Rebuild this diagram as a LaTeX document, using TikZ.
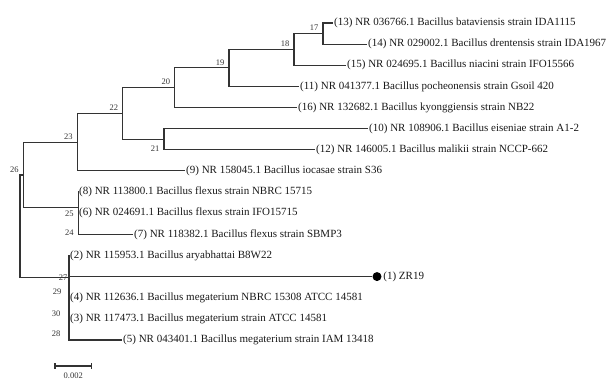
\documentclass[tikz,border=0pt]{standalone}
\usepackage{fontspec}
\setmainfont{Liberation Serif}
\usetikzlibrary{positioning}

\tikzset{
    branch/.style={draw=black!80, line width=1.1pt},
    leaf/.style={anchor=west, inner sep=1pt, text=black!90, font=\fontsize{11}{12}\selectfont},
    nlab/.style={inner sep=0pt, text=black!80, font=\fontsize{8.5}{9}\selectfont},
    zrdot/.style={circle, fill=black, inner sep=0pt, minimum size=9pt},
}

\begin{document}
\begin{tikzpicture}[x=1pt, y=-1pt]
        \useasboundingbox (0,0) rectangle (607,381);

        % leaves: name / row / x where the branch ends / text
        \foreach \id/\row/\xe/\txt in {
            13/0/333/{(13) NR 036766.1 Bacillus bataviensis strain IDA1115},
            14/1/367/{(14) NR 029002.1 Bacillus drentensis strain IDA1967},
            15/2/346/{(15) NR 024695.1 Bacillus niacini strain IFO15566},
            11/3/299/{(11) NR 041377.1 Bacillus pocheonensis strain Gsoil 420},
            16/4/297/{(16) NR 132682.1 Bacillus kyonggiensis strain NB22},
            10/5/368/{(10) NR 108906.1 Bacillus eiseniae strain A1-2},
            12/6/315/{(12) NR 146005.1 Bacillus malikii strain NCCP-662},
            9/7/185/{(9) NR 158045.1 Bacillus iocasae strain S36},
            8/8/78/{(8) NR 113800.1 Bacillus flexus strain NBRC 15715},
            6/9/78/{(6) NR 024691.1 Bacillus flexus strain IFO15715},
            7/10/133/{(7) NR 118382.1 Bacillus flexus strain SBMP3},
            2/11/69/{(2) NR 115953.1 Bacillus aryabhattai B8W22},
            4/13/69/{(4) NR 112636.1 Bacillus megaterium NBRC 15308 ATCC 14581},
            3/14/69/{(3) NR 117473.1 Bacillus megaterium strain ATCC 14581},
            5/15/122/{(5) NR 043401.1 Bacillus megaterium strain IAM 13418}
        }
        {
            \node[leaf] (l\id) at (\xe, {23+21.13*\row}) {\txt};
        }

        % the isolate
        \node[zrdot] (d1) at (377, {23+21.13*12}) {};
        \node[leaf, right=0.5pt of d1] (l1) {(1) ZR19};

        % inner nodes: name / x / y
        \foreach \n/\x/\y in {17/323/33.57, 18/294/49.41, 19/229/67.90, 20/174.7/87.71,
            21/164/139.21, 22/122.7/113.46, 23/77.3/142.19, 24/78.3/223.74, 25/78.3/207.89,
            26/23.3/175.04, 30/69/308.26, 28/69/324.1, 29/69/300.33, 27/69/277.88, 0/20/226.46}
        {
            \coordinate (n\n) at (\x,\y);
        }

        % branches: parent / child
        \foreach \p/\c in {n17/l13.west, n17/l14.west, n18/n17, n18/l15.west,
            n19/n18, n19/l11.west, n20/n19, n20/l16.west, n21/l10.west, n21/l12.west,
            n22/n20, n22/n21, n23/n22, n23/l9.west, n24/l6.west, n24/l7.west,
            n25/l8.west, n25/n24, n26/n23, n26/n25, n30/l4.west, n30/l3.west,
            n28/n30, n28/l5.west, n29/d1, n29/n28, n27/l2.west, n27/n29,
            n0/n26, n0/n27}
        {
            \draw[branch] (\p) |- (\c);
        }

        % node numbers
        \foreach \n in {17,18,19,20,22,23,26}
            \node[nlab, above left=2.5pt and 4.5pt of n\n] (t\n) {\n};
        \node[nlab, below left=6pt and 4.5pt of n21] (t21) {21};
        \node[nlab, below left=3pt and 4.5pt of n25] (t25) {25};
        \node[nlab, below left=6pt and 4.5pt of n24] (t24) {24};
        \node[nlab, left=1.5pt of n27] (t27) {27};
        \node[nlab, above left=6pt and 7.5pt of n29] (t29) {29};
        \node[nlab, below left=2pt and 8.5pt of n30] (t30) {30};
        \node[nlab, below left=7pt and 8.5pt of n28] (t28) {28};

        % scale bar
        \coordinate (s0) at (55,366);
        \coordinate (s1) at (91.7,366);
        \draw[branch] (s0) -- (s1);
        \draw[branch] ([yshift=3pt]s0) -- ([yshift=-3pt]s0);
        \draw[branch] ([yshift=3pt]s1) -- ([yshift=-3pt]s1);
        \node[nlab] (sl) at (73.3,375.5) {0.002};
\end{tikzpicture}
\end{document}
